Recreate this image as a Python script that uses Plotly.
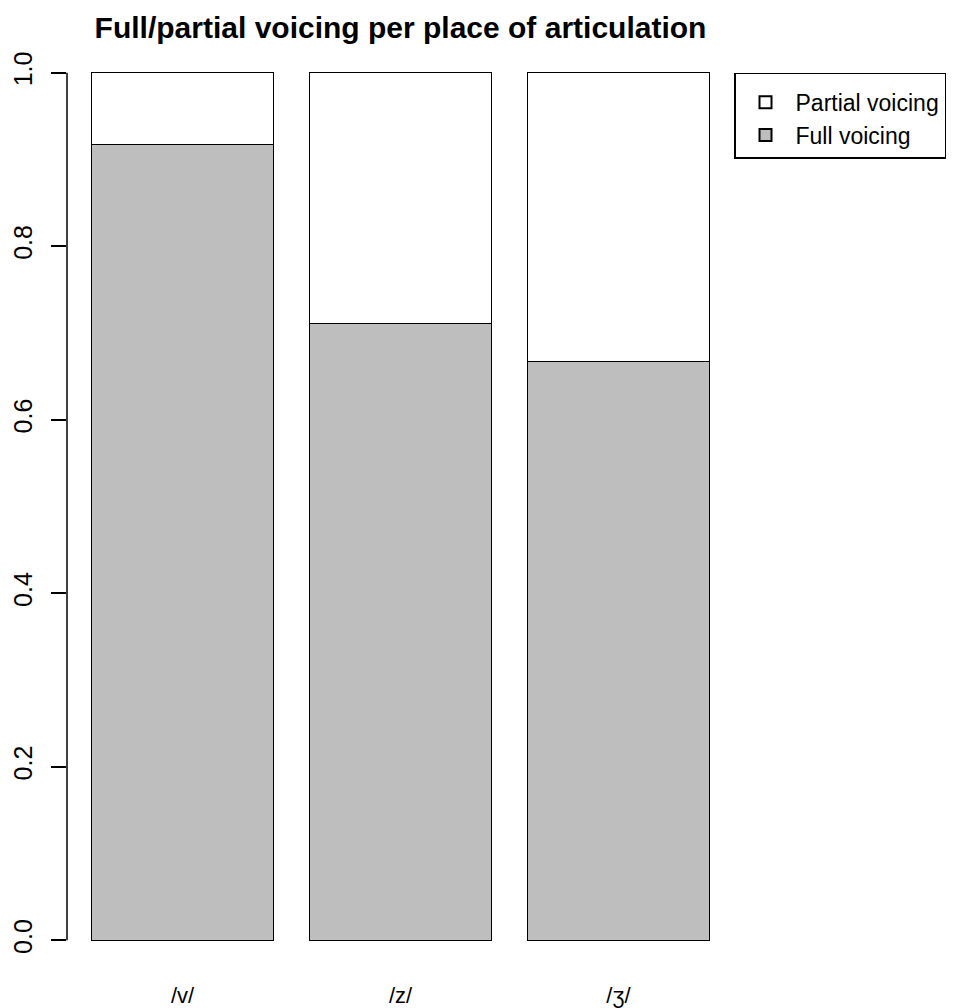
import plotly.graph_objects as go

categories = ["/v/", "/z/", "/ʒ/"]
full_voicing = [0.917, 0.711, 0.667]
partial_voicing = [round(1 - v, 3) for v in full_voicing]
bar_positions = [0.7, 1.9, 3.1]
y_ticks = [0.0, 0.2, 0.4, 0.6, 0.8, 1.0]
y_tick_labels = ["0.0", "0.2", "0.4", "0.6", "0.8", "1.0"]

FONT = "Liberation Sans, Arial, Helvetica, sans-serif"
LW = 1.5

fig = go.Figure()
fig.add_trace(go.Bar(
    x=bar_positions, y=full_voicing, width=1.0, name="Full voicing",
    marker=dict(color="#BEBEBE", line=dict(color="black", width=LW)),
    hoverinfo="skip",
))
fig.add_trace(go.Bar(
    x=bar_positions, y=partial_voicing, width=1.0, name="Partial voicing",
    marker=dict(color="white", line=dict(color="black", width=LW)),
    hoverinfo="skip",
))

y_range = [-0.04, 1.04]

fig.update_layout(
    width=948, height=1000,
    barmode="stack",
    plot_bgcolor="white", paper_bgcolor="white",
    margin=dict(l=59.4, r=222.4, t=30, b=33, autoexpand=False),
    font=dict(family=FONT, color="black"),
    title=dict(
        text="Full/partial voicing per place of articulation",
        font=dict(family=FONT, size=30, weight="bold", color="black"),
        x=0.5, xref="paper", xanchor="center",
        y=1 - 19 / 1000, yref="container", yanchor="middle",
    ),
    xaxis=dict(
        range=[0.064, 3.736], showgrid=False, zeroline=False, showline=False,
        tickvals=bar_positions, ticktext=categories,
        ticks="outside", ticklen=1, tickcolor="rgba(0,0,0,0)",
        tickfont=dict(size=22, family=FONT),
    ),
    yaxis=dict(
        range=y_range, showgrid=False, zeroline=False, showline=False,
        tickvals=y_ticks, ticktext=y_tick_labels,
        ticks="outside", ticklen=15, tickwidth=LW, tickcolor="black",
        tickangle=-90, tickfont=dict(size=25, family=FONT),
        ticklabelstandoff=9,
    ),
    legend=dict(
        x=1.0, xanchor="left", xref="paper",
        y=(1.0 - y_range[0]) / (y_range[1] - y_range[0]), yanchor="top",
        traceorder="reversed",
        bordercolor="black", borderwidth=LW, bgcolor="white",
        font=dict(size=23, family=FONT),
        title=dict(text=" ", font=dict(size=5)),
        itemsizing="constant", itemwidth=50,
    ),
    showlegend=True,
)

fig.add_shape(
    type="line", xref="paper", yref="y",
    x0=0, x1=0, y0=min(y_ticks), y1=max(y_ticks),
    line=dict(color="black", width=LW),
)

fig.write_html("out.html")
